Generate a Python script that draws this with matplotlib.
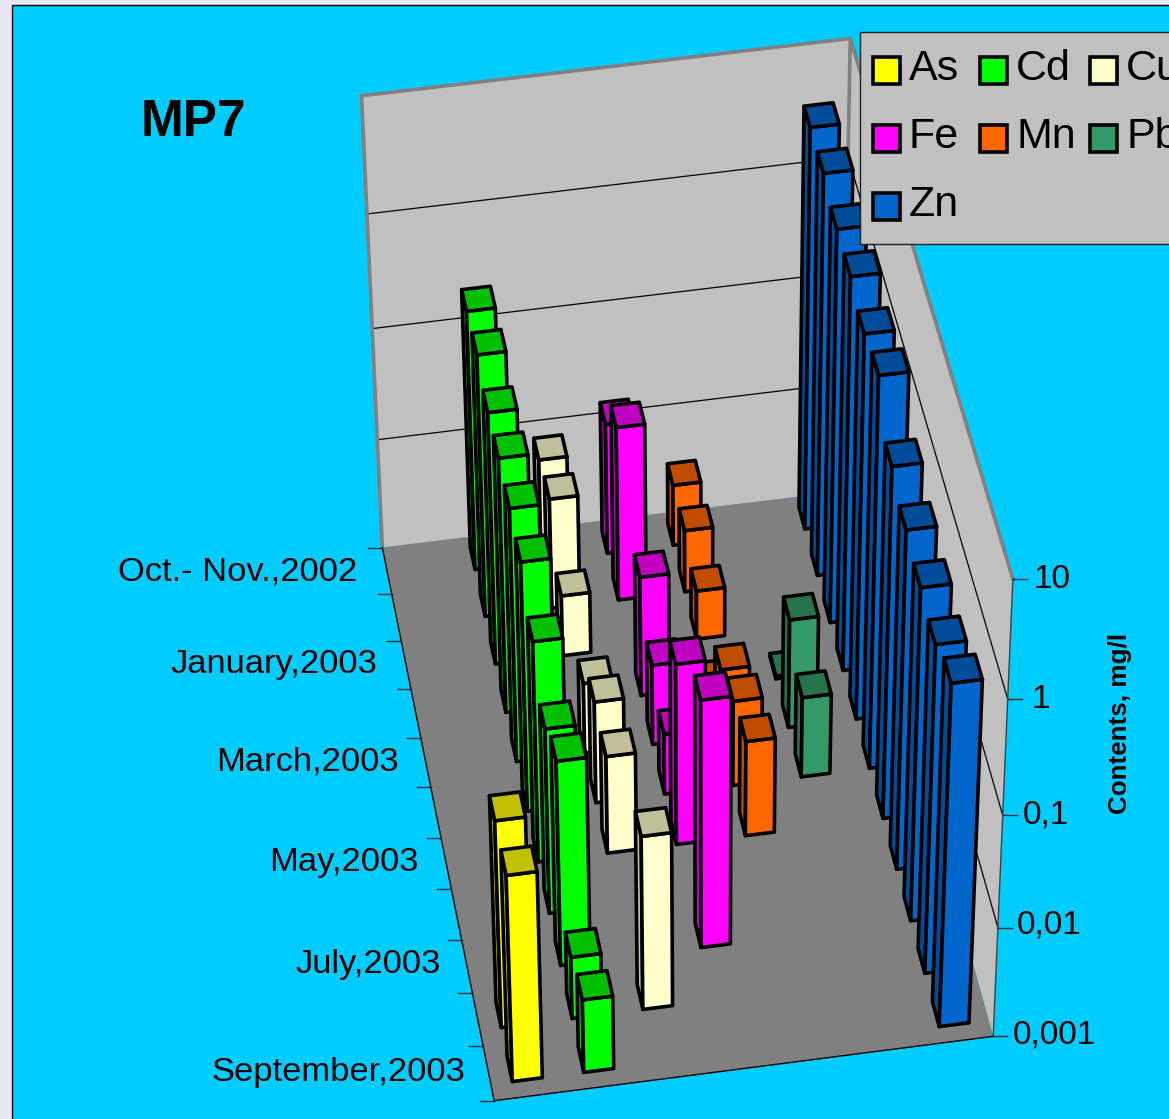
import numpy as np
import matplotlib
matplotlib.use('Agg')
import matplotlib.pyplot as plt
from matplotlib.patches import Polygon, Rectangle

plt.rcParams['font.family'] = ['Liberation Sans', 'DejaVu Sans']

nan = float('nan')
MONTHS = ['Oct.- Nov.,2002', 'December,2002', 'January,2003', 'February,2003', 'March,2003', 'April,2003',
          'May,2003', 'June,2003', 'July,2003', 'August,2003', 'September,2003']
SERIES = ['As', 'Cd', 'Cu', 'Fe', 'Mn', 'Pb', 'Zn']
AS = [nan, nan, nan, nan, nan, nan, nan, nan, nan, 0.076, 0.075]
CD = [0.22, 0.234, 0.19, 0.2, 0.195, 0.18, 0.1, 0.048, 0.072, 0.0037, 0.0047]
CU = [0.0087, 0.0102, 0.0036, nan, 0.0044, 0.0085, 0.0078, nan, nan, 0.038, nan]
FE = [0.0155, 0.038, nan, 0.0123, 0.0054, 0.0036, 0.044, nan, 0.172, nan, nan]
MN = [0.0036, 0.0037, 0.0028, 0.00105, 0.0041, 0.006, 0.0074, nan, nan, nan, nan]
PB = [nan, nan, nan, 0.00106, 0.0098, 0.0054, nan, nan, nan, nan, nan]
ZN = [3.7, 3.7, 3.1, 3.1, 2.6, 3.0, 1.35, 1.05, 0.93, 0.85, 1.13]
COLORS = ['#FFFF00', '#00FF00', '#FFFFCC', '#FF00FF', '#FF6600', '#339966', '#0066CC']
SHADES = ['#C0C000', '#00C000', '#BFBF99', '#C000C0', '#C04C00', '#26734C', '#004C99']
Z_LABELS = ['0,001', '0,01', '0,1', '1', '10']

# box corners in (series, depth, decades) -> pixel, used to fit the camera
CAM_3D = [(0, 0, 0), (7, 0, 0), (7, 0, 4), (0, 11, 0), (0, 11, 4), (7, 11, 4), (7, 11, 0),
          (7, 0, 3), (7, 0, 2), (7, 0, 1)]
CAM_2D = [(494, 1101), (993, 1036), (1012, 578), (382, 547), (362, 96), (850, 38), (842, 492),
          (1008, 700), (1003.5, 817), (998, 926)]


def fit_camera():
    rows, rhs = [], []
    for (x, y, z), (u, v) in zip(CAM_3D, CAM_2D):
        rows.append([x, y, z, 1, 0, 0, 0, 0, -u * x, -u * y, -u * z])
        rows.append([0, 0, 0, 0, x, y, z, 1, -v * x, -v * y, -v * z])
        rhs += [u, v]
    p = np.linalg.lstsq(np.array(rows, float), np.array(rhs, float), rcond=None)[0]
    return np.append(p, 1).reshape(3, 4)


CAM = fit_camera()


def proj(x, y, z):
    h = CAM @ np.array([x, y, z, 1.0])
    return h[0] / h[2], h[1] / h[2]


fig = plt.figure(figsize=(11.69, 11.19), dpi=100, facecolor='#E8E8F4')
ax = fig.add_axes([0, 0, 1, 1])
ax.set_xlim(0, 1169)
ax.set_ylim(1119, 0)
ax.axis('off')

ax.add_patch(Rectangle((12, 5), 1170, 1130, facecolor='#00CCFF', edgecolor='black', lw=1))


def face(points, fc, ec='none', lw=0.0, z=1):
    ax.add_patch(Polygon([proj(*p) for p in points], closed=True, facecolor=fc, edgecolor=ec, lw=lw,
                         zorder=z, joinstyle='round'))


def line3(a, b, color='black', lw=0.8, z=2):
    pa, pb = proj(*a), proj(*b)
    ax.plot([pa[0], pb[0]], [pa[1], pb[1]], color=color, lw=lw, zorder=z, solid_capstyle='round')


# walls and floor
face([(0, 11, 0), (7, 11, 0), (7, 11, 4), (0, 11, 4)], '#C0C0C0')
face([(7, 11, 0), (7, 0, 0), (7, 0, 4), (7, 11, 4)], '#C0C0C0')
face([(0, 0, 0), (7, 0, 0), (7, 11, 0), (0, 11, 0)], '#808080', z=1.5)
for k in range(1, 4):
    line3((0, 11, k), (7, 11, k), lw=0.9)
    line3((7, 11, k), (7, 0, k), lw=0.9)
for a, b in [((0, 11, 0), (0, 11, 4)), ((0, 11, 4), (7, 11, 4)), ((7, 11, 4), (7, 0, 4)), ((7, 11, 4), (7, 11, 0))]:
    line3(a, b, color='#808080', lw=2.6)
line3((7, 0, 0), (7, 0, 4), color='#404040', lw=1.0)
line3((0, 0, 0), (0, 11, 0), lw=1.0)
line3((0, 0, 0), (7, 0, 0), lw=1.0)

# axis ticks
for k, lab in enumerate(Z_LABELS):
    u, v = proj(7, 0, k)
    ax.plot([u, u + 14], [v, v], color='#103040', lw=1.0, zorder=2)
LABEL_X = [1013, 1017, 1023, 1031, 1034]
LABEL_Y = [1035, 925, 815, 699, 579]
for lab, lx, ly in zip(Z_LABELS, LABEL_X, LABEL_Y):
    ax.text(lx, ly, lab, fontsize=24, ha='left', va='center', color='black')
for k in range(12):
    u, v = proj(0, k, 0)
    ax.plot([u - 14, u], [v, v], color='#103040', lw=1.0, zorder=2)
MONTH_X = [357, 377, 399, 419, 441, 465]
MONTH_Y = [572, 665, 762, 863, 965, 1073]
for lab, lx, ly in zip(MONTHS[::2], MONTH_X, MONTH_Y):
    ax.text(lx, ly, lab, fontsize=24.8, ha='right', va='center', color='black')

# bars, back row first
table = [AS, CD, CU, FE, MN, PB, ZN]
n_rows = len(MONTHS)
for r in range(n_rows):
    yc = n_rows - r - 0.5
    for s in range(len(SERIES) - 1, -1, -1):
        val = table[s][r]
        if np.isnan(val):
            continue
        h = np.log10(val) + 3
        x0, x1 = s + 0.3, s + 0.72
        y0, y1 = yc - 0.2, yc + 0.27
        order = 3 + r + (6 - s) * 0.01
        bar = dict(ec='black', lw=2.6, z=order)
        face([(x0, y0, 0), (x0, y1, 0), (x0, y1, h), (x0, y0, h)], SHADES[s], **bar)
        face([(x0, y0, 0), (x1, y0, 0), (x1, y0, h), (x0, y0, h)], COLORS[s], **bar)
        face([(x0, y0, h), (x1, y0, h), (x1, y1, h), (x0, y1, h)], SHADES[s], **bar)

# legend
ax.add_patch(Rectangle((860, 32), 330, 212, facecolor='#C0C0C0', edgecolor='#202020', lw=1, zorder=30))
SWATCH_X = [873, 980, 1090]
TEXT_X = [909, 1016, 1126]
ROW_Y = [70, 138, 206]
for i, name in enumerate(SERIES):
    row, col = i // 3, i % 3
    ax.add_patch(Rectangle((SWATCH_X[col], ROW_Y[row] - 13.5), 27, 27, facecolor=COLORS[i], edgecolor='black',
                           lw=2.6, zorder=31))
    ax.text(TEXT_X[col], ROW_Y[row] - 1, name, fontsize=31, ha='left', va='center', color='black', zorder=31)

ax.text(141, 123, 'MP7', fontsize=37, fontweight='bold', ha='left', va='center', color='black')
ax.text(1120, 723, 'Contents, mg/l', fontsize=18.7, fontweight='bold', rotation=90, ha='center', va='center',
        color='black')

fig.savefig('out.png', dpi=100, facecolor=fig.get_facecolor())
